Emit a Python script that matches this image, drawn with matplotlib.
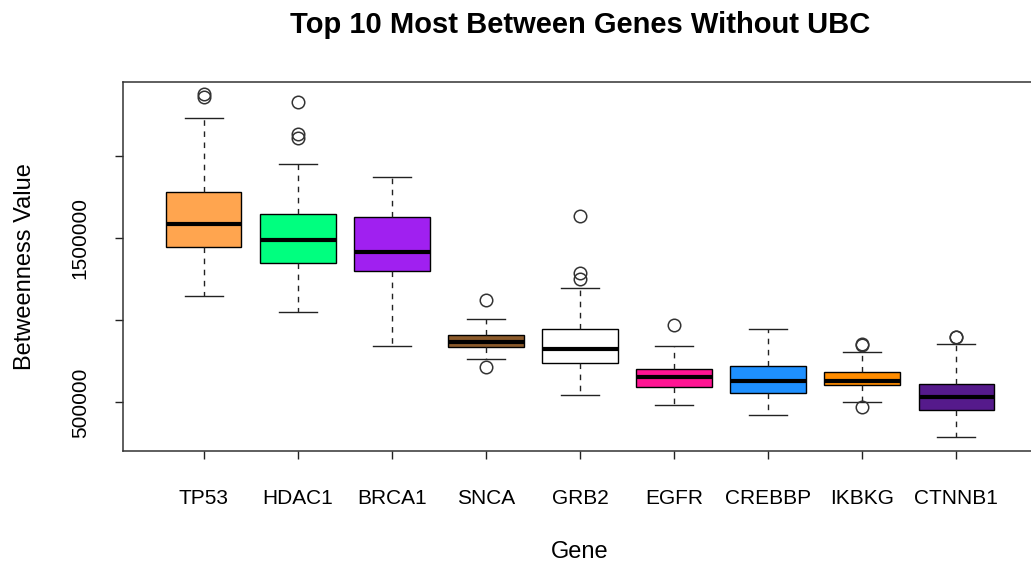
import matplotlib
matplotlib.use("Agg")
import matplotlib.pyplot as plt

plt.rcParams['font.family'] = ['Liberation Sans', 'DejaVu Sans']

genes = ['TP53', 'HDAC1', 'BRCA1', 'SNCA', 'GRB2', 'EGFR', 'CREBBP', 'IKBKG', 'CTNNB1']
colors = ['#FFA54F', '#00FF7F', '#A020F0', '#8B5A2B', '#FFFFFF',
          '#FF1493', '#1E90FF', '#FF8C00', '#551A8B']

# box stats
whislo = [1149000, 1048000, 845000, 762000, 545000, 482000, 424000, 504000, 291000]
q1 = [1445000, 1350000, 1299000, 835000, 741000, 592000, 559000, 604000, 454000]
med = [1585000, 1486000, 1417000, 869000, 827000, 657000, 630000, 632000, 533000]
q3 = [1781000, 1646000, 1630000, 910000, 945000, 703000, 723000, 687000, 614000]
whishi = [2232000, 1948000, 1873000, 1007000, 1194000, 845000, 946000, 807000, 855000]
fliers = [
    [2376000, 2360000],
    [2325000, 2130000, 2110000],
    [],
    [1123000, 717000],
    [1634000, 1289000, 1249000],
    [971000],
    [],
    [857000, 850000, 474000],
    [900000, 895000],
]

yticks = [500000, 1000000, 1500000, 2000000]
ytick_labels = ['500000', '', '1500000', '']


def main():
    fig = plt.figure(figsize=(10.31, 5.65), dpi=100)
    W, H = 1031, 565
    ax = fig.add_axes([123 / W, 1 - 451 / H, (1037 - 123) / W, (451 - 82) / H])

    stats = []
    for i, g in enumerate(genes):
        stats.append(dict(label=g, whislo=whislo[i], q1=q1[i], med=med[i],
                          q3=q3[i], whishi=whishi[i], fliers=fliers[i]))

    pos = list(range(1, len(genes) + 1))
    bp = ax.bxp(stats, positions=pos, widths=0.8, patch_artist=True,
                boxprops=dict(edgecolor='black', linewidth=1.0),
                medianprops=dict(color='black', linewidth=3, solid_capstyle='butt'),
                whiskerprops=dict(color='#222222', linewidth=1.0, linestyle=(0, (4, 4))),
                capprops=dict(color='#222222', linewidth=1.0),
                capwidths=0.4,
                flierprops=dict(marker='o', markerfacecolor='none',
                                markeredgecolor='#333333', markersize=9,
                                markeredgewidth=1.1))
    for patch, c in zip(bp['boxes'], colors):
        patch.set_facecolor(c)

    ax.set_xlim(0.14, 9.86)
    ax.set_ylim(204300, 2449000)

    ax.set_yticks(yticks)
    ax.set_yticklabels(ytick_labels, rotation=90, va='center')
    ax.set_xticks(pos)
    ax.set_xticklabels(genes)

    ax.tick_params(axis='both', direction='out', length=6, width=1,
                   color='#222222', labelsize=15)
    ax.tick_params(axis='x', pad=21)
    ax.tick_params(axis='y', pad=18)

    for s in ax.spines.values():
        s.set_color('#333333')
        s.set_linewidth(1.1)

    ax.set_xlabel('Gene', fontsize=17, labelpad=24)
    ax.set_ylabel('Betweenness Value', fontsize=17, labelpad=25)
    fig.text((123 + 1037) / 2 / W, 1 - 25 / H,
             'Top 10 Most Between Genes Without UBC',
             ha='center', va='center', fontsize=21, fontweight='bold')

    fig.savefig('out.png', dpi=100)


if __name__ == '__main__':
    main()
